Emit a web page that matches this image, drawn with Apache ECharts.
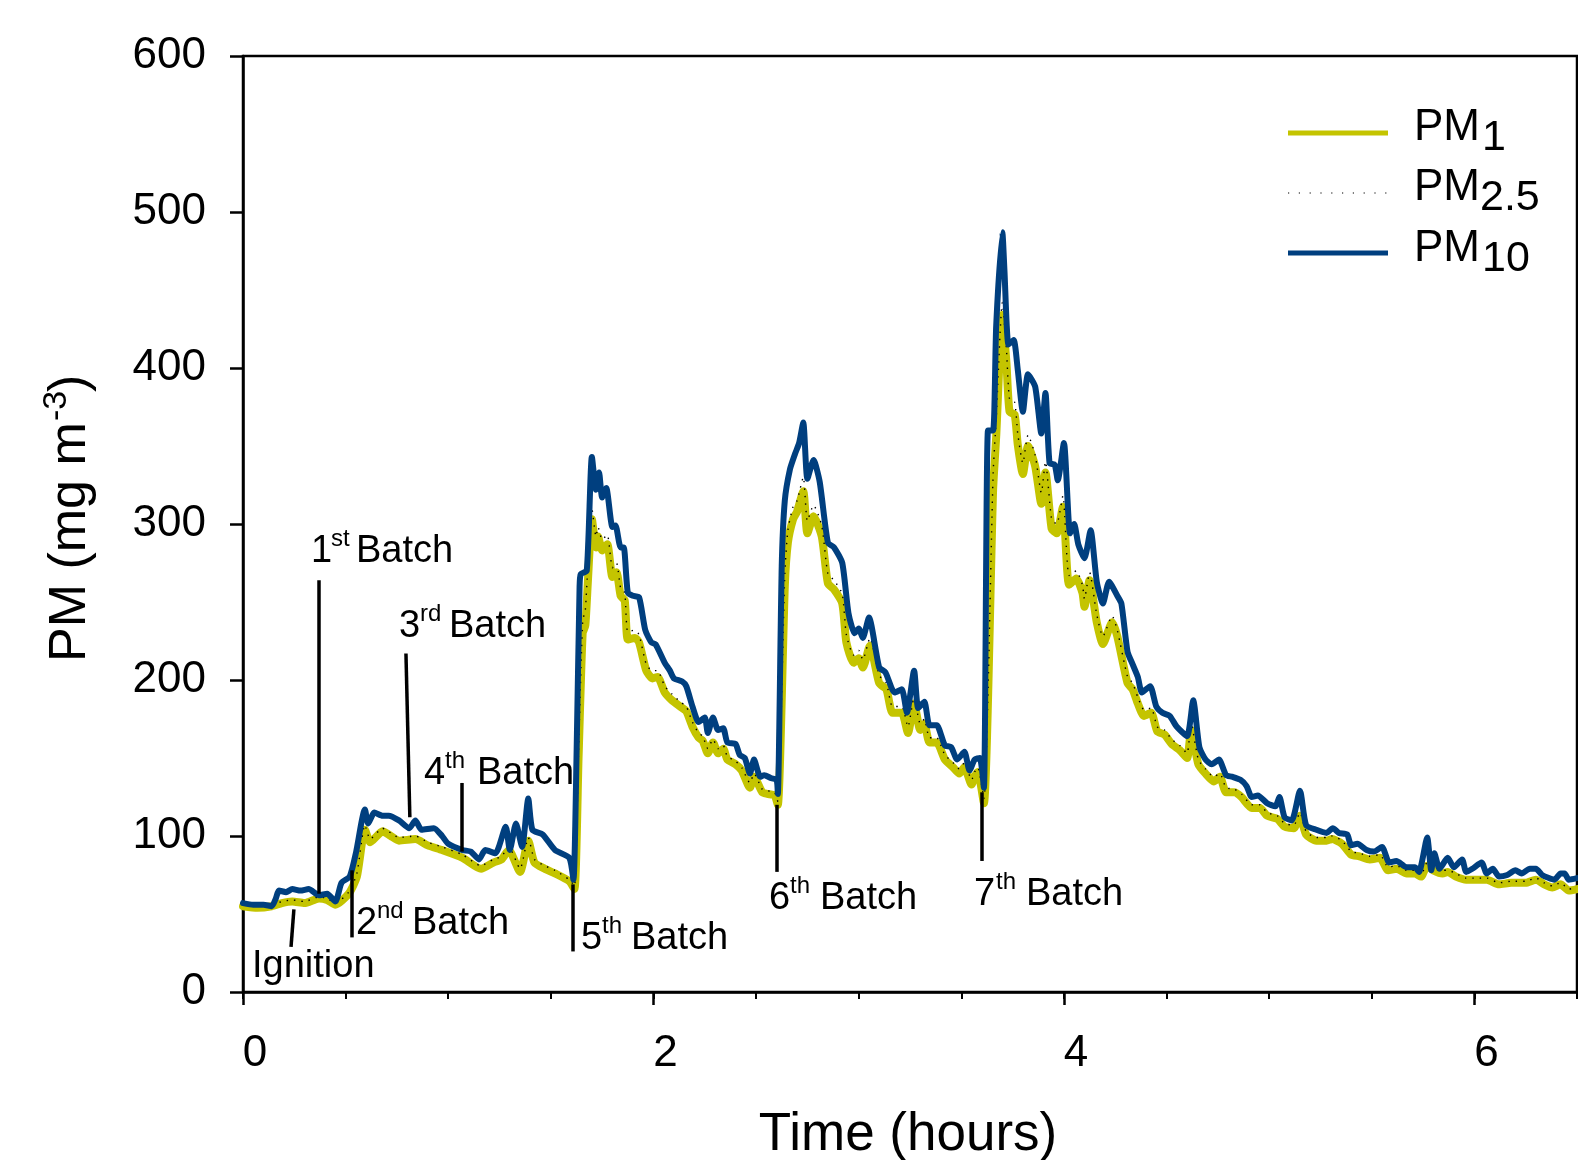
<!DOCTYPE html>
<html>
<head>
<meta charset="utf-8">
<title>PM time series</title>
<script src="https://cdn.jsdelivr.net/npm/echarts@6/dist/echarts.min.js"></script>
<style>
html, body { margin: 0; padding: 0; background: #fff; }
#data_show { width: 1578px; height: 1160px; }
</style>
</head>
<body>
<div id="data_show"></div>
<script>
// PM10 (hours, value)
var pm10_time = [0.00,0.05,0.10,0.14,0.16,0.175,0.21,0.24,0.28,0.32,0.37,0.41,0.45,0.48,0.52,0.55,0.594,0.61,0.64,0.68,0.71,0.76,0.81,0.84,0.87,0.93,0.97,1.00,1.07,1.11,1.15,1.18,1.23,1.28,1.30,1.33,1.36,1.39,1.41,1.46,1.52,1.59,1.61,
	1.625,1.64,1.646,1.675,1.70,1.72,1.735,1.75,1.77,1.80,1.815,1.84,1.855,1.875,1.90,1.93,1.96,1.99,2.01,2.055,2.08,2.10,2.14,2.16,2.19,2.22,2.25,2.265,2.29,2.315,2.34,2.36,2.40,2.42,2.445,2.47,2.49,2.52,2.54,2.575,2.60,2.606,
	2.625,2.64,2.665,2.69,2.71,2.73,2.75,2.78,2.81,2.85,2.88,2.92,2.95,2.98,3.00,3.02,3.05,3.10,3.13,3.175,3.21,3.235,3.27,3.29,3.32,3.345,3.38,3.42,3.45,3.48,3.515,3.54,3.565,3.59,
	3.61,3.63,3.655,3.67,3.70,3.71,3.73,3.755,3.775,3.80,3.825,3.86,3.89,3.91,3.93,3.955,3.97,4.00,4.03,4.05,4.07,4.10,4.13,4.16,4.19,4.22,4.26,4.28,4.31,4.335,4.36,4.38,4.42,4.45,4.48,4.515,4.55,4.60,4.63,4.66,
	4.69,4.72,4.755,4.79,4.82,4.86,4.89,4.915,4.945,4.99,5.03,5.05,5.075,5.11,5.15,5.18,5.23,5.28,5.31,5.34,5.38,5.40,5.43,5.475,5.51,5.55,5.585,5.62,5.67,5.71,5.73,5.77,5.79,5.805,5.83,5.87,5.90,5.94,5.96,5.99,6.035,6.06,6.09,6.12,6.16,6.20,6.23,6.27,6.30,6.33,6.39,6.42,6.44,6.46,6.50];
var pm10_data = [57,56,56,55,60,65,64,66,65,66,62,63,58,70,74,89,117,108,115,113,113,110,105,110,104,105,100,95,91,90,85,91,89,106,91,108,93,124,104,101,91,86,72,
	150,260,268,270,343,322,333,317,323,298,299,285,285,256,254,253,232,224,223,211,206,201,199,196,183,173,176,166,176,168,169,160,159,152,150,140,149,138,139,137,136,127,
	273,315,335,345,352,365,329,341,327,288,285,275,243,230,233,227,240,208,205,192,194,179,206,182,186,171,171,158,157,149,154,142,149,150,
	131,360,360,427,487,463,415,418,399,372,396,388,358,384,339,338,328,352,294,300,287,278,296,263,249,263,254,249,218,210,202,192,196,183,179,177,170,164,187,157,
	149,146,149,139,138,136,132,125,126,121,119,125,112,110,129,107,104,102,105,102,101,94,95,91,90,93,83,84,80,80,77,99,78,89,79,86,80,85,77,79,83,76,79,74,75,78,76,79,79,75,72,76,76,72,73];

// PM1 and PM2.5 share a time axis
var pm1_time = [0.00,0.07,0.14,0.19,0.24,0.30,0.37,0.41,0.45,0.515,0.555,0.594,0.62,0.68,0.72,0.76,0.84,0.90,0.97,1.07,1.16,1.22,1.26,1.295,1.35,1.39,1.42,1.47,1.52,1.59,1.615,
	1.635,1.655,1.668,1.68,1.70,1.72,1.73,1.75,1.775,1.80,1.82,1.84,1.86,1.875,1.91,1.93,1.965,1.995,2.02,2.055,2.09,2.13,2.16,2.19,2.22,2.24,2.265,2.29,2.315,2.34,2.36,2.40,2.43,2.47,2.49,2.53,2.555,2.59,2.606,
	2.64,2.655,2.68,2.70,2.73,2.75,2.78,2.82,2.85,2.88,2.92,2.94,2.975,3.00,3.02,3.055,3.10,3.135,3.165,3.21,3.24,3.27,3.30,3.32,3.345,3.38,3.42,3.46,3.49,3.515,3.55,3.565,3.58,3.61,
	3.655,3.67,3.70,3.72,3.735,3.76,3.775,3.80,3.825,3.86,3.89,3.91,3.94,3.965,3.995,4.025,4.06,4.09,4.10,4.125,4.16,4.19,4.235,4.26,4.31,4.335,4.36,4.39,4.425,4.455,4.49,4.525,4.565,4.60,4.62,4.655,4.69,4.73,4.76,4.79,4.83,4.865,4.915,4.955,4.99,5.04,5.075,5.12,5.15,5.18,5.23,5.28,5.305,5.355,5.40,5.44,5.49,5.54,5.58,5.62,5.67,5.71,5.74,5.77,5.80,5.845,5.87,5.91,5.96,6.01,6.06,6.12,6.18,6.25,6.30,6.34,6.38,6.42,6.46,6.50];
var pm1_data = [55,54,55,57,58,57,60,59,56,63,74,104,96,103,100,97,98,94,91,86,79,83,85,91,77,97,83,79,76,71,66,
	150,230,235,262,303,285,292,283,287,266,269,254,251,226,227,224,206,201,202,192,187,183,180,170,163,161,153,160,153,156,149,146,142,131,138,128,127,126,120,
	260,288,303,308,321,294,305,292,262,258,249,224,211,214,208,222,198,194,179,179,166,185,168,172,160,160,149,144,140,144,133,138,141,121,
	322,356,434,403,372,370,351,332,350,337,313,333,297,294,311,261,265,256,247,264,237,223,237,228,198,194,185,177,179,167,165,159,155,150,168,146,140,135,138,128,128,125,118,118,113,111,106,105,113,101,97,97,98,95,88,87,85,86,78,79,76,76,74,81,78,76,77,74,72,72,72,69,70,70,72,69,67,69,65,66];
var pm25_data = [56,55,56,58,59,58,61,60,57,64,76,107,98,105,102,99,100,96,93,88,81,85,87,93,79,99,85,81,78,72,68,
	155,238,245,272,310,292,298,290,293,272,275,259,256,231,232,229,210,206,206,196,191,186,183,173,166,164,156,162,156,158,151,148,144,134,140,130,129,128,122,
	268,296,311,315,330,302,312,299,268,264,255,229,216,219,213,227,203,198,183,183,170,189,172,175,163,163,152,147,143,147,136,141,144,124,
	332,367,442,412,380,378,358,339,357,344,320,340,303,300,318,267,270,261,252,269,242,228,241,232,202,198,189,181,182,170,168,162,158,153,172,149,143,138,140,131,130,127,120,120,115,113,108,107,115,103,99,99,100,97,90,89,87,88,80,81,78,78,75,83,79,78,78,76,73,73,73,70,71,71,73,70,68,70,66,67];

// event marker lines: [[t_top, v_top], [t_bottom, v_bottom]]
var event_lines = [
	[[0.248,53],[0.234,29]],   // Ignition
	[[0.37,264],[0.37,63]],    // 1st
	[[0.531,78],[0.531,35]],   // 2nd
	[[0.794,217],[0.813,112]], // 3rd
	[[1.067,134],[1.067,90]],  // 4th
	[[1.607,69],[1.607,26]],   // 5th
	[[2.601,120],[2.601,77]],  // 6th
	[[3.600,128],[3.600,84]]   // 7th
];

var x_ticks = [0, 2, 4, 6];
var y_ticks = [0, 100, 200, 300, 400, 500, 600];

var FONT = '"Liberation Sans", Arial, Helvetica, sans-serif';
var YELLOW = '#c4c400';
var BLUE = '#003f7f';

function zip(t, v){
	var out = [];
	for(var i = 0; i < Math.min(t.length, v.length); i++){
		out.push([t[i], v[i]]);
	}
	return out;
}

// text placed by its baseline
function txt(str, x, baseline, size, align){
	return {
		type: 'text',
		x: x,
		y: baseline - 0.35 * size,
		silent: true,
		style: {
			text: str,
			font: size + 'px ' + FONT,
			fill: '#000',
			align: align || 'left',
			verticalAlign: 'middle'
		}
	};
}

// "Nth Batch" label: number, superscript, word
function batch_label(num, sup, x_num, x_sup, x_word, baseline){
	return [
		txt(num, x_num, baseline, 38),
		txt(sup, x_sup, baseline - 17, 24),
		txt('Batch', x_word, baseline, 38)
	];
}

var chart = echarts.init(document.getElementById('data_show'));

var graphics = [];
graphics.push(txt('Ignition', 252, 980, 38));
graphics = graphics.concat(batch_label('1', 'st', 311, 331, 356, 565));
graphics = graphics.concat(batch_label('2', 'nd', 356, 377, 412, 937));
graphics = graphics.concat(batch_label('3', 'rd', 399, 420, 449, 640));
graphics = graphics.concat(batch_label('4', 'th', 424, 445, 477, 787));
graphics = graphics.concat(batch_label('5', 'th', 581, 602, 631, 952));
graphics = graphics.concat(batch_label('6', 'th', 769, 790, 820, 912));
graphics = graphics.concat(batch_label('7', 'th', 974, 996, 1026, 908));

// legend
graphics.push({type: 'line', silent: true, shape: {x1: 1288, y1: 133, x2: 1388, y2: 133}, style: {stroke: YELLOW, lineWidth: 5}});
graphics.push({type: 'line', silent: true, shape: {x1: 1288, y1: 193, x2: 1388, y2: 193}, style: {stroke: '#000', lineWidth: 1.2, lineDash: [1.2, 9.6]}});
graphics.push({type: 'line', silent: true, shape: {x1: 1288, y1: 253, x2: 1388, y2: 253}, style: {stroke: BLUE, lineWidth: 5}});
graphics.push(txt('PM', 1414, 143, 44));
graphics.push(txt('1', 1482, 153, 43));
graphics.push(txt('PM', 1414, 203, 44));
graphics.push(txt('2.5', 1480, 213, 43));
graphics.push(txt('PM', 1414, 264, 44));
graphics.push(txt('10', 1482, 274, 43));

// axis titles
graphics.push(txt('Time (hours)', 908, 1154, 53, 'center'));
graphics.push({
	type: 'group',
	x: 89,
	y: 662,
	rotation: Math.PI / 2,
	children: [
		txt('PM (mg m', 0, 0, 52),
		txt('-3', 241, -20, 34),
		txt(')', 270, 0, 52)
	]
});

var option = {
	animation: false,
	backgroundColor: '#fff',
	grid: {
		left: 243,
		right: 1,
		top: 56,
		bottom: 168,
		show: true,
		borderColor: '#000',
		borderWidth: 2.5,
		backgroundColor: 'transparent'
	},
	xAxis: [
		{
			type: 'value',
			min: 0,
			max: 6.5,
			interval: 2,
			axisLine: {show: true, onZero: false, lineStyle: {color: '#000', width: 2.5}},
			axisTick: {show: true, inside: false, length: 13, lineStyle: {color: '#000', width: 2.5}},
			axisLabel: {
				show: true,
				margin: 40,
				padding: [0, 0, 0, 24],
				color: '#000',
				fontSize: 44,
				fontFamily: FONT,
				showMaxLabel: false,
				formatter: function(v){ return x_ticks.indexOf(v) >= 0 ? String(v) : ''; }
			},
			splitLine: {show: false}
		},
		{
			type: 'value',
			min: 0,
			max: 6.5,
			interval: 0.5,
			position: 'bottom',
			axisLine: {show: false, onZero: false},
			axisTick: {show: true, inside: false, length: 7, lineStyle: {color: '#000', width: 2}},
			axisLabel: {show: false},
			splitLine: {show: false}
		}
	],
	yAxis: {
		type: 'value',
		min: 0,
		max: 600,
		interval: 100,
		axisLine: {show: true, lineStyle: {color: '#000', width: 2.5}},
		axisTick: {show: true, inside: false, length: 13, lineStyle: {color: '#000', width: 2.5}},
		axisLabel: {
			margin: 37,
			color: '#000',
			fontSize: 44,
			fontFamily: FONT,
			formatter: function(v){ return y_ticks.indexOf(v) >= 0 ? String(v) : ''; }
		},
		splitLine: {show: false}
	},
	series: [
		{
			name: 'PM1',
			type: 'line',
			xAxisIndex: 0,
			showSymbol: false,
			smooth: 0.2,
			lineStyle: {color: YELLOW, width: 8, join: 'round', cap: 'round'},
			data: zip(pm1_time, pm1_data),
			z: 2
		},
		{
			name: 'PM2.5',
			type: 'line',
			xAxisIndex: 0,
			showSymbol: false,
			smooth: 0.2,
			lineStyle: {color: '#000', width: 1.4, type: [1.4, 6]},
			data: zip(pm1_time, pm25_data),
			z: 3
		},
		{
			name: 'PM10',
			type: 'line',
			xAxisIndex: 0,
			showSymbol: false,
			smooth: 0.2,
			lineStyle: {color: BLUE, width: 6, join: 'round', cap: 'round'},
			data: zip(pm10_time, pm10_data),
			z: 4,
			markLine: {
				silent: true,
				animation: false,
				symbol: ['none', 'none'],
				label: {show: false},
				lineStyle: {color: '#000', width: 3.5, type: 'solid'},
				emphasis: {disabled: true},
				data: event_lines.map(function(l){
					return [{coord: l[0]}, {coord: l[1]}];
				})
			}
		}
	],
	graphic: graphics
};

chart.setOption(option);
</script>
</body>
</html>
